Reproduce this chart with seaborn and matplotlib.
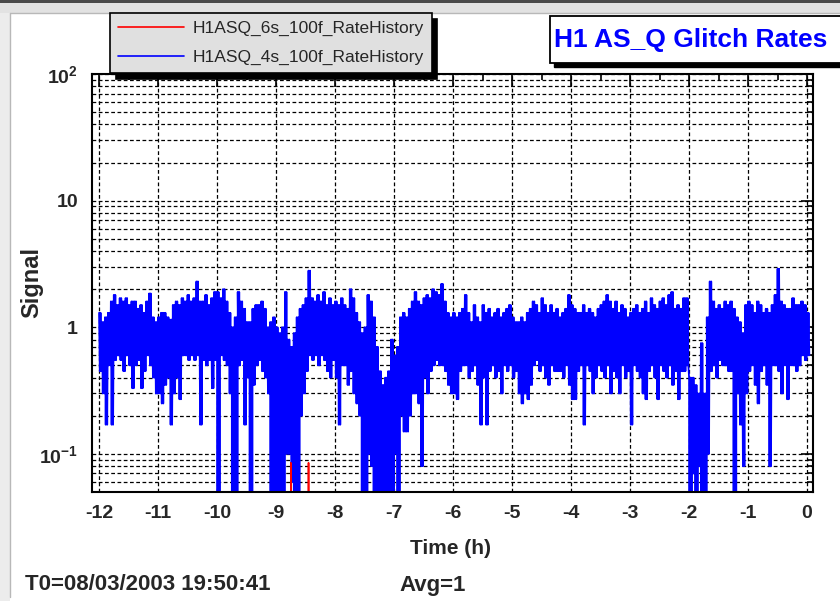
import numpy as np
import pandas as pd
import matplotlib
matplotlib.use("Agg")
import matplotlib.pyplot as plt
from matplotlib.patches import Rectangle
from matplotlib.lines import Line2D
from matplotlib.ticker import FixedLocator, LogLocator, NullFormatter, FixedFormatter
import seaborn as sns

# ---------------------------------------------------------------------------
# Glitch-rate history, 3-minute bins, hours relative to T0
# ---------------------------------------------------------------------------
BIN_START_H = -12.0
BIN_WIDTH_H = 0.05

# H1ASQ_4s_100f: per-bin upper and lower excursions of the rate (0 = no triggers)
rate_4s_high = [
    # -12 h .. -11.05 h
    1.3, 1.1, 1.2, 1.3, 1.6, 1.8, 1.5, 1.7, 1.6, 1.7, 1.5, 1.6, 1.6, 1.4, 1.5, 1.3, 1.6, 1.85, 1.2, 1.1,
    # -11 h
    1.2, 1.3, 1.3, 1.2, 1.15, 1.5, 1.6, 1.5, 1.7, 1.6, 1.8, 1.6, 1.7, 2.3, 1.6, 1.6, 1.8, 1.5, 1.7, 1.9,
    # -10 h
    1.9, 1.7, 2.0, 1.6, 1.3, 1.0, 1.2, 1.9, 1.6, 1.4, 1.1, 1.1, 1.4, 1.5, 1.5, 1.6, 1.4, 1.0, 1.1, 1.2,
    # -9 h
    1.0, 0.9, 1.0, 1.9, 0.8, 0.7, 0.9, 1.2, 1.4, 1.5, 1.7, 2.8, 1.7, 1.6, 1.8, 1.6, 1.9, 1.5, 1.7, 1.5,
    # -8 h
    1.6, 1.5, 1.7, 1.5, 1.4, 2.0, 1.7, 1.3, 1.1, 0.9, 1.0, 1.8, 1.6, 1.2, 0.7, 0.45, 0.35, 0.4, 0.45, 0.8,
    # -7 h
    0.6, 0.7, 1.2, 1.3, 1.2, 1.4, 1.6, 1.9, 1.6, 1.5, 1.7, 1.8, 1.7, 2.0, 1.9, 1.8, 2.2, 1.6, 1.3, 1.2,
    # -6 h
    1.3, 1.2, 1.3, 1.4, 1.8, 1.3, 1.1, 1.5, 1.2, 1.1, 1.5, 1.3, 1.4, 1.2, 1.3, 1.4, 1.2, 1.3, 1.4, 1.5,
    # -5 h
    1.2, 1.1, 1.1, 1.2, 1.1, 1.3, 1.4, 1.6, 1.5, 1.3, 1.7, 1.5, 1.3, 1.5, 1.3, 1.4, 1.2, 1.3, 1.4, 1.8,
    # -4 h
    1.5, 1.4, 1.3, 1.3, 1.5, 1.3, 1.4, 1.3, 1.2, 1.4, 1.5, 1.6, 1.8, 1.6, 1.4, 1.6, 1.3, 1.5, 1.4, 1.2,
    # -3 h
    1.3, 1.4, 1.5, 1.3, 1.4, 1.6, 1.3, 1.7, 1.5, 1.4, 1.6, 1.7, 1.5, 1.8, 1.9, 1.4, 1.5, 1.4, 1.7, 1.7,
    # -2 h
    0.4, 0.4, 0.35, 0.3, 0.75, 0.3, 1.2, 2.3, 1.6, 1.4, 1.5, 1.4, 1.6, 1.5, 1.6, 1.4, 1.2, 1.1, 0.9, 1.5,
    # -1 h .. 0 h
    1.6, 1.5, 1.3, 1.6, 1.5, 1.3, 1.4, 1.3, 1.5, 1.8, 2.9, 1.6, 1.5, 1.4, 1.4, 1.7, 1.5, 1.5, 1.6, 1.5, 1.3,
]
rate_4s_low = [
    0.45, 0.3, 0.17, 0.5, 0.17, 0.55, 0.6, 0.55, 0.45, 0.6, 0.5, 0.33, 0.5, 0.55, 0.33, 0.45, 0.6, 0.5, 0.4, 0.3,
    0.3, 0.25, 0.35, 0.4, 0.17, 0.3, 0.4, 0.27, 0.6, 0.6, 0.55, 0.6, 0.55, 0.6, 0.17, 0.55, 0.5, 0.55, 0.33, 0.55,
    0.0, 0.6, 0.55, 0.5, 0.3, 0.0, 0.0, 0.5, 0.55, 0.17, 0.4, 0.0, 0.35, 0.5, 0.55, 0.45, 0.4, 0.3, 0.0, 0.0,
    0.0, 0.0, 0.0, 0.1, 0.1, 0.06, 0.0, 0.0, 0.2, 0.3, 0.45, 0.6, 0.55, 0.6, 0.5, 0.6, 0.55, 0.45, 0.4, 0.55,
    0.4, 0.17, 0.5, 0.5, 0.35, 0.45, 0.3, 0.25, 0.2, 0.0, 0.0, 0.1, 0.08, 0.0, 0.0, 0.0, 0.0, 0.0, 0.0, 0.0,
    0.1, 0.0, 0.2, 0.15, 0.15, 0.2, 0.3, 0.3, 0.25, 0.08, 0.4, 0.3, 0.45, 0.5, 0.55, 0.5, 0.5, 0.45, 0.35, 0.3,
    0.3, 0.27, 0.45, 0.5, 0.5, 0.4, 0.45, 0.5, 0.35, 0.17, 0.4, 0.17, 0.45, 0.5, 0.4, 0.45, 0.3, 0.5, 0.45, 0.5,
    0.4, 0.45, 0.3, 0.25, 0.3, 0.27, 0.35, 0.5, 0.55, 0.45, 0.5, 0.4, 0.35, 0.5, 0.45, 0.45, 0.45, 0.4, 0.5, 0.35,
    0.27, 0.27, 0.45, 0.5, 0.17, 0.5, 0.45, 0.3, 0.4, 0.5, 0.45, 0.4, 0.5, 0.3, 0.45, 0.4, 0.3, 0.5, 0.4, 0.45,
    0.17, 0.5, 0.45, 0.4, 0.3, 0.27, 0.45, 0.5, 0.4, 0.27, 0.5, 0.45, 0.4, 0.5, 0.35, 0.45, 0.27, 0.45, 0.45, 0.5,
    0.0, 0.07, 0.0, 0.08, 0.0, 0.0, 0.1, 0.45, 0.5, 0.4, 0.55, 0.5, 0.5, 0.45, 0.45, 0.0, 0.3, 0.17, 0.08, 0.3,
    0.45, 0.5, 0.35, 0.25, 0.45, 0.5, 0.35, 0.08, 0.5, 0.5, 0.45, 0.3, 0.5, 0.27, 0.5, 0.5, 0.45, 0.5, 0.6, 0.55, 0.6,
]

# H1ASQ_6s_100f: zero everywhere except these bins
rate_6s_bins = {-8.75: 0.085, -8.45: 0.085}

label_6s = "H1ASQ_6s_100f_RateHistory"
label_4s = "H1ASQ_4s_100f_RateHistory"
title_text = "H1 AS_Q Glitch Rates"
x_ticks = list(range(-12, 1))
y_ticks = [0.1, 1, 10, 100]
y_tick_labels = [r"$\mathbf{10^{-1}}$", "1", "10", r"$\mathbf{10^{2}}$"]

# ---------------------------------------------------------------------------
n_bins = len(rate_4s_high)
bin_times = BIN_START_H + BIN_WIDTH_H * np.arange(n_bins)

# every bin is traced up and down through its excursions twice, so the
# dense trace fills each bin's range the way the raw samples do
SWEEPS = 4
offsets = BIN_WIDTH_H * np.arange(SWEEPS) / SWEEPS
t_4s = (bin_times[:, None] + offsets[None, :]).ravel()
r_4s = np.where(np.arange(SWEEPS)[None, :] % 2 == 0,
                np.asarray(rate_4s_high)[:, None],
                np.asarray(rate_4s_low)[:, None]).ravel()
df_4s = pd.DataFrame({"time": t_4s, "rate": r_4s})

r_6s = np.zeros(n_bins)
for t_bin, val in rate_6s_bins.items():
    r_6s[int(round((t_bin - BIN_START_H) / BIN_WIDTH_H))] = val
df_6s = pd.DataFrame({"time": bin_times, "rate": r_6s})

# ---------------------------------------------------------------------------
sns.set_style("white")
plt.rcParams["font.family"] = ["Liberation Sans", "DejaVu Sans"]
plt.rcParams["axes.unicode_minus"] = False
plt.rcParams["mathtext.fontset"] = "custom"
plt.rcParams["mathtext.bf"] = "Liberation Sans:bold"
plt.rcParams["mathtext.rm"] = "Liberation Sans:bold"

W, H = 840, 601
fig = plt.figure(figsize=(W / 100, H / 100), dpi=100, facecolor="white")

def fx(px):
    return px / W

def fy(py):
    return 1 - py / H

# canvas frame around the pad
fig.patches.append(Rectangle((0, 0), fx(10), 1, transform=fig.transFigure,
                             facecolor="#ececec", edgecolor="none", zorder=0))
fig.patches.append(Rectangle((0, fy(13)), 1, 13 / H, transform=fig.transFigure,
                             facecolor="#e2e2e2", edgecolor="none", zorder=0))
fig.patches.append(Rectangle((0, fy(2.5)), 1, 2.5 / H, transform=fig.transFigure,
                             facecolor="#4a4a4a", edgecolor="none", zorder=0))
fig.lines.append(Line2D([fx(10), fx(10)], [fy(597), fy(13)], transform=fig.transFigure,
                        color="#b8b8b8", lw=1.0))
fig.lines.append(Line2D([fx(10), 1], [fy(13), fy(13)], transform=fig.transFigure,
                        color="#b8b8b8", lw=1.0))

ax = fig.add_axes([fx(92), fy(492), fx(813) - fx(92), (492 - 74) / H])
ax.set_facecolor("white")

sns.lineplot(data=df_4s, x="time", y="rate", sort=False, estimator=None,
             color="#0000ff", linewidth=1.3, ax=ax, label=label_4s)
sns.lineplot(data=df_6s, x="time", y="rate", sort=False, estimator=None,
             color="#ff0000", linewidth=1.2, ax=ax, label=label_6s)
if ax.get_legend() is not None:
    ax.get_legend().remove()

ax.set_yscale("log", nonpositive="clip")
ax.set_xlim(-12.12, 0.10)
ax.set_ylim(0.05, 100)

ax.xaxis.set_major_locator(FixedLocator(x_ticks))
ax.xaxis.set_minor_locator(FixedLocator([t + 0.5 for t in x_ticks[:-1]]))
ax.yaxis.set_major_locator(FixedLocator(y_ticks))
ax.yaxis.set_major_formatter(FixedFormatter(y_tick_labels))
ax.yaxis.set_minor_locator(LogLocator(base=10, subs=np.arange(2, 10), numticks=50))
ax.yaxis.set_minor_formatter(NullFormatter())

grid_kw = dict(color="black", linestyle=(0, (3, 2)), linewidth=0.9)
ax.grid(True, which="major", axis="x", **grid_kw)
ax.grid(True, which="both", axis="y", **grid_kw)
ax.set_axisbelow(True)

ax.tick_params(which="both", direction="in", top=True, right=True,
               color="black", width=1.2)
ax.tick_params(which="major", length=9)
ax.tick_params(which="minor", length=4.5)
ax.tick_params(axis="x", which="major", pad=9, labelsize=14)
ax.tick_params(axis="y", which="major", pad=10, labelsize=14)
for lab in ax.get_xticklabels() + ax.get_yticklabels():
    lab.set_fontweight("bold")
for sp in ax.spines.values():
    sp.set_color("black")
    sp.set_linewidth(1.5)

ax.set_xlabel("Time (h)", fontsize=15, fontweight="bold")
ax.xaxis.set_label_coords((450 - 92) / 721, -(539 - 492) / 418)
ax.set_ylabel("Signal", fontsize=17, fontweight="bold", va="center")
ax.yaxis.set_label_coords((32 - 92) / 721, 0.5)

# legend with a black drop shadow
lines = {l.get_label(): l for l in ax.get_lines()}
handles = [lines[label_6s], lines[label_4s]]
leg = fig.legend(handles, [label_6s, label_4s], loc="upper left",
                 bbox_to_anchor=(fx(110), fy(13)), bbox_transform=fig.transFigure,
                 fontsize=12.5, frameon=True, fancybox=False, framealpha=1,
                 facecolor="#e0e0e0", edgecolor="black", borderpad=0.45,
                 labelspacing=0.8, handlelength=3.8, handletextpad=0.5,
                 borderaxespad=0,
                 shadow={"ox": 4, "oy": -4, "facecolor": "black",
                         "edgecolor": "black", "alpha": 1})
leg.get_frame().set_linewidth(1.2)
for lh in leg.get_lines():
    lh.set_linewidth(1.2)
for txt in leg.get_texts():
    txt.set_color("#262626")

# title box with drop shadow
fig.patches.append(Rectangle((fx(554), fy(67)), fx(300), (63 - 16) / H,
                             transform=fig.transFigure, facecolor="black",
                             edgecolor="black", zorder=3))
fig.patches.append(Rectangle((fx(550), fy(63)), fx(300), (63 - 16) / H,
                             transform=fig.transFigure, facecolor="white",
                             edgecolor="black", lw=1.3, zorder=4))
fig.text(fx(554), fy(40), title_text, color="#0000ff", fontsize=19,
         fontweight="bold", ha="left", va="center", zorder=5)

fig.text(fx(25), fy(585), "T0=08/03/2003 19:50:41", fontsize=16,
         fontweight="bold", ha="left", va="center")
fig.text(fx(399), fy(585), "Avg=1", fontsize=16, fontweight="bold",
         ha="left", va="center")

fig.savefig("out.png", dpi=100, facecolor=fig.get_facecolor())
